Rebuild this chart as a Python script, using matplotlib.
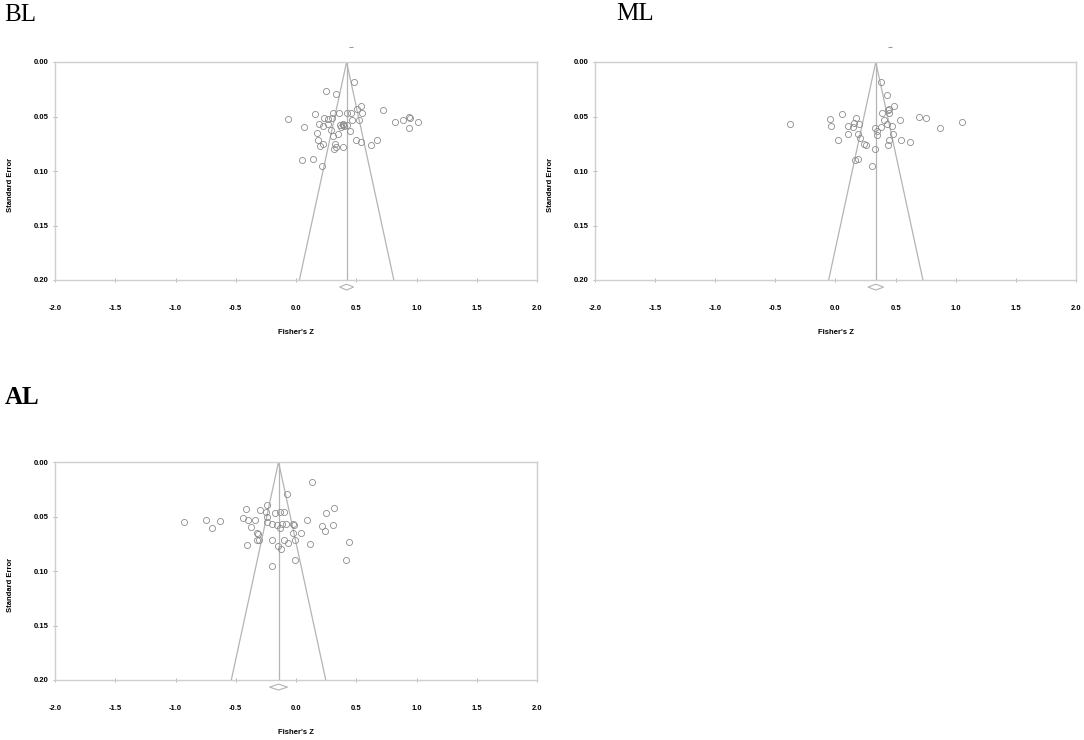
import numpy as np
import matplotlib
matplotlib.use("Agg")
import matplotlib.pyplot as plt
from matplotlib.ticker import FormatStrFormatter

# --- data (Fisher's Z vs standard error) ---
bl_z = [0.481, 0.246, 0.332, 0.537, 0.725, 0.509, 0.548, 0.158, 0.310, 0.357, 0.420, 0.456,
        -0.066, 0.230, 0.263, 0.301, 0.465, 0.526, 0.822, 0.891, 0.940, 0.945, 1.010, 0.064,
        0.191, 0.222, 0.268, 0.365, 0.387, 0.398, 0.426, 0.376, 0.288, 0.448, 0.935, 0.177,
        0.346, 0.307, 0.185, 0.222, 0.197, 0.321, 0.332, 0.393, 0.313, 0.495, 0.537, 0.625,
        0.670, 0.052, 0.139, 0.216, 0.392]
bl_se = [0.018, 0.027, 0.029, 0.040, 0.044, 0.043, 0.047, 0.048, 0.047, 0.047, 0.047, 0.047,
         0.052, 0.051, 0.052, 0.051, 0.053, 0.053, 0.055, 0.053, 0.050, 0.051, 0.055, 0.060,
         0.057, 0.059, 0.057, 0.058, 0.057, 0.059, 0.058, 0.060, 0.062, 0.063, 0.061, 0.065,
         0.066, 0.068, 0.072, 0.075, 0.077, 0.075, 0.078, 0.078, 0.080, 0.072, 0.073, 0.076,
         0.072, 0.090, 0.089, 0.095, 0.058]

ml_z = [0.379, 0.432, 0.484, 0.055, 0.390, 0.442, 0.448, -0.047, 0.172, 0.407, 0.537, 0.697,
        0.753, -0.379, -0.036, 0.102, 0.152, 0.144, 0.193, 0.429, 0.471, 0.382, 0.332, 0.871,
        1.054, 0.343, 0.100, 0.183, 0.343, 0.476, 0.207, 0.019, 0.238, 0.255, 0.448, 0.437,
        0.542, 0.620, 0.332, 0.160, 0.183, 0.307, 0.434]
ml_se = [0.018, 0.030, 0.040, 0.048, 0.047, 0.043, 0.047, 0.052, 0.051, 0.053, 0.053, 0.050,
         0.051, 0.057, 0.059, 0.059, 0.056, 0.060, 0.057, 0.057, 0.059, 0.060, 0.061, 0.061,
         0.055, 0.063, 0.066, 0.066, 0.067, 0.066, 0.070, 0.072, 0.075, 0.076, 0.072, 0.076,
         0.072, 0.073, 0.080, 0.090, 0.089, 0.095, 0.044]

al_z = [0.136, -0.077, -0.243, -0.417, -0.301, 0.318, 0.252, -0.246, -0.174, -0.133, -0.100,
        -0.440, -0.398, -0.338, -0.243, 0.089, -0.928, -0.743, -0.630, -0.701, -0.243, -0.199,
        -0.160, -0.119, -0.086, -0.022, -0.371, -0.133, 0.213, 0.241, 0.310, -0.324, -0.027,
        0.044, -0.327, -0.310, -0.199, -0.100, -0.070, -0.006, 0.119, -0.409, -0.146, -0.124,
        0.442, -0.011, 0.412, -0.202, -0.318, -0.018]
al_se = [0.018, 0.029, 0.039, 0.043, 0.044, 0.042, 0.047, 0.046, 0.047, 0.046, 0.046, 0.051,
         0.053, 0.053, 0.050, 0.053, 0.055, 0.053, 0.054, 0.061, 0.055, 0.057, 0.058, 0.057,
         0.057, 0.057, 0.060, 0.061, 0.059, 0.063, 0.058, 0.065, 0.065, 0.065, 0.072, 0.072,
         0.072, 0.072, 0.074, 0.072, 0.075, 0.076, 0.077, 0.080, 0.073, 0.090, 0.090, 0.095,
         0.066, 0.058]

# pooled estimate and its CI (diamond) per panel
pooled = {"BL": 0.420, "ML": 0.335, "AL": -0.145}
pooled_ci = {"BL": (0.362, 0.478), "ML": (0.270, 0.400), "AL": (-0.220, -0.070)}
# small stray marks drawn above the plot frame
top_mark = {"BL": 0.454, "ML": 0.450}

panels = [
    ("BL", bl_z, bl_se, [55, 62, 482, 218], (4, 15)),
    ("ML", ml_z, ml_se, [595, 62, 481, 218], (616, 14)),
    ("AL", al_z, al_se, [55, 462, 482, 218], (5, 398)),
]

W, H = 1084, 740
fig = plt.figure(figsize=(W / 100, H / 100), dpi=100, facecolor="white")

frame_col = "#cfcfcf"
line_col = "#b4b4b4"
pt_col = "#8c8c8c"
se_max = 0.20

for name, z, se, (px, py, pw, ph), (tx, ty) in panels:
    ax = fig.add_axes([px / W, 1 - (py + ph) / H, pw / W, ph / H])
    ax.set_xlim(-2.0, 2.0)
    ax.set_ylim(se_max, 0.0)

    m = pooled[name]
    # funnel: pseudo 95% limits and the vertical line at the pooled value
    ax.plot([m - 1.96 * se_max, m, m + 1.96 * se_max], [se_max, 0.0, se_max],
            color=line_col, lw=0.9, zorder=2)
    ax.plot([m, m], [0.0, se_max], color=line_col, lw=0.9, zorder=2)

    ax.plot(z, se, linestyle="none", marker="o", markersize=4.4,
            markerfacecolor="none", markeredgecolor=pt_col, markeredgewidth=0.6, zorder=3)

    # pooled estimate diamond below the frame
    lo, hi = pooled_ci[name]
    yd = 0.2065
    ax.fill([lo, m, hi, m, lo], [yd, yd - 0.0027, yd, yd + 0.0027, yd],
            facecolor="white", edgecolor=line_col, lw=0.8, clip_on=False, zorder=4)

    if name in top_mark:
        ax.plot([top_mark[name]], [-0.0135], marker="_", markersize=2.5,
                color="#9a9a9a", mew=0.8, clip_on=False)

    for sp in ax.spines.values():
        sp.set_color(frame_col)
        sp.set_linewidth(1.0)

    ax.set_xticks(np.arange(-2.0, 2.01, 0.5))
    ax.set_yticks(np.arange(0.0, 0.201, 0.05))
    ax.xaxis.set_major_formatter(FormatStrFormatter("%.1f"))
    ax.yaxis.set_major_formatter(FormatStrFormatter("%.2f"))
    ax.tick_params(axis="x", direction="inout", length=2.5, width=0.6, color="#a8a8a8",
                   pad=17, labelsize=5.5)
    ax.tick_params(axis="y", direction="inout", length=2.5, width=0.6, color="#a8a8a8",
                   pad=3, labelsize=5.5)
    for lab in ax.get_xticklabels() + ax.get_yticklabels():
        lab.set_fontfamily("Liberation Sans")
        lab.set_fontweight("bold")

    ax.set_xlabel("Fisher's Z", fontsize=5.5, fontweight="bold", family="Liberation Sans")
    ax.xaxis.set_label_coords(0.5, -(332 - 280) / 218)
    ax.xaxis.label.set_va("center")
    ax.set_ylabel("Standard Error", fontsize=5.5, fontweight="bold", family="Liberation Sans")
    ax.yaxis.set_label_coords(-44 / pw, (280 - 185) / 218)
    ax.yaxis.label.set_va("center")

    fig.text(tx / W, 1 - ty / H, name, fontsize=18, family="Liberation Serif",
             fontweight="bold" if name == "AL" else "normal", va="center", ha="left")

fig.savefig("out.png", dpi=100, facecolor="white")
